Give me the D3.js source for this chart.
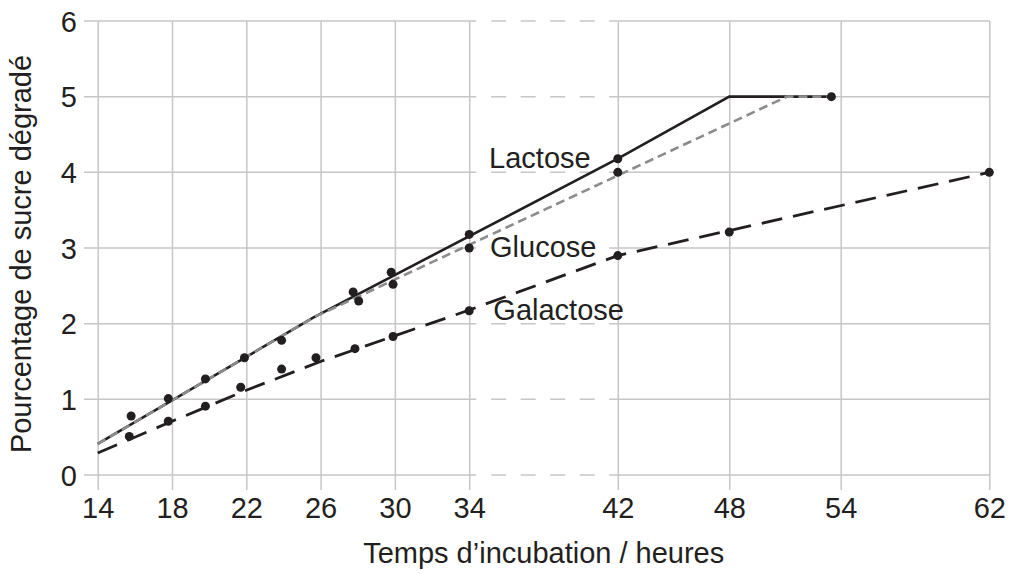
<!DOCTYPE html>
<html>
<head>
<meta charset="utf-8">
<script src="https://cdn.jsdelivr.net/npm/d3@7"></script>
<style>
  html, body { margin: 0; padding: 0; background: #fff; }
  svg { display: block; }
  text { font-family: "Liberation Sans", Arial, sans-serif; fill: #231f20; }
</style>
</head>
<body>
<svg id="chart" width="1009" height="574"></svg>
<script>
// ---- data ----
const xTicks = [14, 18, 22, 26, 30, 34, 42, 48, 54, 62];
const yTicks = [0, 1, 2, 3, 4, 5, 6];

const lactoseT = [15.8, 17.8, 19.8, 21.9, 23.9, 27.75, 29.8, 34, 42, 53.5];
const lactoseV = [0.78, 1.01, 1.27, 1.55, 1.78, 2.42, 2.68, 3.18, 4.18, 5.0];
const glucoseT = [28.05, 29.9, 34, 42];
const glucoseV = [2.30, 2.52, 3.0, 4.0];
const galactoseT = [15.7, 17.8, 19.8, 21.7, 23.9, 25.75, 27.85, 29.9, 34, 42, 48, 62];
const galactoseV = [0.51, 0.71, 0.91, 1.16, 1.40, 1.55, 1.67, 1.83, 2.17, 2.90, 3.21, 4.0];

// fitted lines as drawn in the figure
const lactoseLineT = [14, 25.6, 42, 48, 53.5];
const lactoseLineV = [0.41, 2.08, 4.18, 5, 5];
const glucoseLineT = [14, 25.6, 51.1, 53.5];
const glucoseLineV = [0.41, 2.08, 5, 5];
const galactoseLineT = [14, 18, 22, 26, 30, 34, 42, 62];
const galactoseLineV = [0.29, 0.71, 1.12, 1.50, 1.84, 2.18, 2.90, 4.0];

const labelNames = ["Lactose", "Glucose", "Galactose"];
const labelT = [35.07, 35.12, 35.3];
const labelV = [4.053, 2.877, 2.048];

const xTitle = "Temps d\u2019incubation / heures";
const yTitle = "Pourcentage de sucre dégradé";

// ---- drawing ----
const svg = d3.select("#chart");
const x = d3.scaleLinear().domain([14, 62]).range([97.7, 989.3]);
const y = d3.scaleLinear().domain([0, 6]).range([475, 21]);

const gridColor = "#c6c6c6";
const ink = "#231f20";
const FS = 29;

// horizontal gridlines: solid, with dashed part between 34 and 42
const grid = svg.append("g");
const leftEnd = 84, breakA = x(34) + 7, breakB = x(34) + 22, rightStart = x(42), rightEnd = 990;
yTicks.forEach(v => {
  grid.append("line").attr("x1", leftEnd).attr("x2", breakA).attr("y1", y(v)).attr("y2", y(v))
    .attr("stroke", gridColor).attr("stroke-width", 1.5);
  grid.append("line").attr("x1", breakB).attr("x2", rightStart).attr("y1", y(v)).attr("y2", y(v))
    .attr("stroke", gridColor).attr("stroke-width", 1.5).attr("stroke-dasharray", "15,14.5");
  grid.append("line").attr("x1", rightStart).attr("x2", rightEnd).attr("y1", y(v)).attr("y2", y(v))
    .attr("stroke", gridColor).attr("stroke-width", 1.5);
});

// x axis with vertical gridlines
const xAxis = d3.axisBottom(x).tickValues(xTicks).tickFormat(d3.format("d"))
  .tickSizeInner(-(490 - y(6))).tickSizeOuter(0).tickPadding(0);
const gx = svg.append("g").attr("transform", "translate(0,490)").call(xAxis);
gx.select(".domain").remove();
gx.selectAll(".tick line").attr("stroke", gridColor).attr("stroke-width", 1.5);
gx.selectAll(".tick text").attr("y", 28).attr("dy", 0)
  .style("font-size", FS + "px").style("font-family", "Liberation Sans, Arial, sans-serif").attr("fill", ink);

// y axis labels
const yAxis = d3.axisLeft(y).tickValues(yTicks).tickFormat(d3.format("d")).tickSize(0).tickPadding(7);
const gy = svg.append("g").attr("transform", "translate(84,0)").call(yAxis);
gy.select(".domain").remove();
gy.selectAll(".tick text").attr("dy", "0.35em")
  .style("font-size", FS + "px").style("font-family", "Liberation Sans, Arial, sans-serif").attr("fill", ink);

// lines
const line = d3.line().x(d => x(d[0])).y(d => y(d[1]));
const zip = (a, b) => a.map((t, i) => [t, b[i]]);

svg.append("path").datum(zip(lactoseLineT, lactoseLineV)).attr("d", line)
  .attr("fill", "none").attr("stroke", ink).attr("stroke-width", 2.6);
svg.append("path").datum(zip(galactoseLineT, galactoseLineV)).attr("d", line)
  .attr("fill", "none").attr("stroke", ink).attr("stroke-width", 2.8)
  .attr("stroke-dasharray", "21,11");
svg.append("path").datum(zip(glucoseLineT, glucoseLineV)).attr("d", line)
  .attr("fill", "none").attr("stroke", "#8c8c8c").attr("stroke-width", 2.6)
  .attr("stroke-dasharray", "9,5");

// points
const pts = [].concat(zip(lactoseT, lactoseV), zip(glucoseT, glucoseV), zip(galactoseT, galactoseV));
svg.append("g").selectAll("circle").data(pts).join("circle")
  .attr("cx", d => x(d[0])).attr("cy", d => y(d[1])).attr("r", 4.5).attr("fill", ink);

// series labels
const lg = svg.append("g");
labelNames.forEach((name, i) => {
  const t = lg.append("text").attr("x", x(labelT[i])).attr("y", y(labelV[i]))
    .style("font-size", FS + "px").text(name);
  if (name === "Glucose") {
    const bb = t.node().getBBox();
    lg.insert("rect", "text").attr("x", bb.x - 2).attr("y", bb.y + 4).attr("width", bb.width + 4)
      .attr("height", bb.height - 8).attr("fill", "#fff");
  }
});

// axis titles
svg.append("text").attr("x", 543.7).attr("y", 563).attr("text-anchor", "middle")
  .style("font-size", FS + "px").text(xTitle);
svg.append("text").attr("transform", "translate(31,254) rotate(-90)").attr("text-anchor", "middle")
  .style("font-size", FS + "px").text(yTitle);
</script>
</body>
</html>
